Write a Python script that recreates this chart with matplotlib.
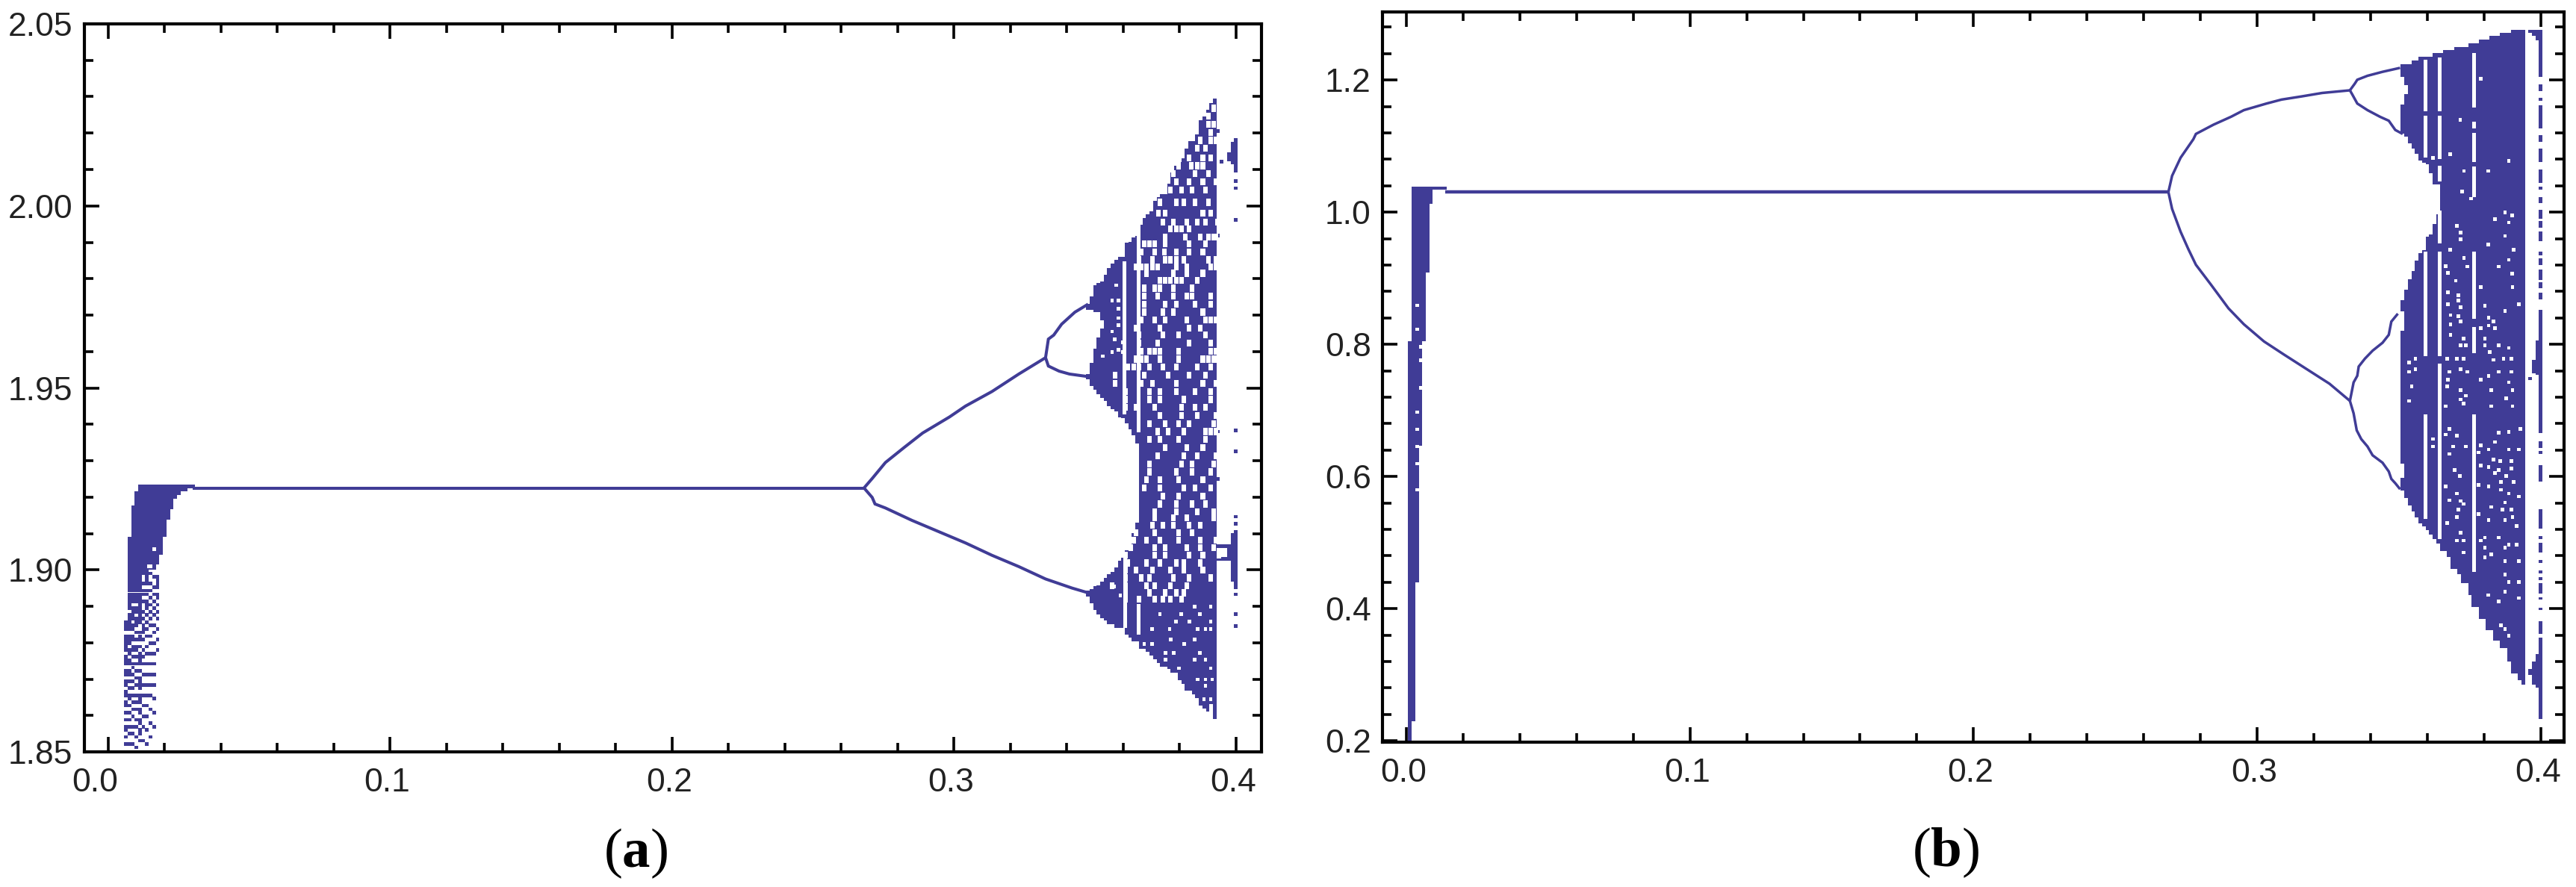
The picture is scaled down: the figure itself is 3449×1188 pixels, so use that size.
import matplotlib
matplotlib.use("Agg")
import matplotlib.pyplot as plt
from matplotlib.ticker import MultipleLocator
from matplotlib.transforms import ScaledTranslation

COL = "#403c96"
CW = 0.00125  # width of one column of points on the parameter axis

# ---------- panel (a) ----------
a_line_x = [0.03, 0.2681]
a_line_y = [1.9225, 1.9225]
a_upper_x = [0.2681, 0.2710, 0.2757, 0.2823, 0.2889, 0.2984, 0.3041, 0.3135, 0.3230, 0.3325]
a_upper_y = [1.9225, 1.9251, 1.9295, 1.9336, 1.9376, 1.9420, 1.9450, 1.9490, 1.9538, 1.9583]
a_lower_x = [0.2681, 0.2710, 0.2720, 0.2757, 0.2851, 0.2946, 0.3041, 0.3135, 0.3230, 0.3325, 0.3419, 0.3476]
a_lower_y = [1.9225, 1.9199, 1.9181, 1.9170, 1.9136, 1.9105, 1.9074, 1.9040, 1.9009, 1.8975, 1.8950, 1.8937]
a_loop_up_x = [0.3325, 0.3335, 0.3354, 0.3382, 0.3429, 0.3476]
a_loop_up_y = [1.9583, 1.9634, 1.9645, 1.9675, 1.9708, 1.9730]
a_loop_lo_x = [0.3325, 0.3335, 0.3373, 0.3410, 0.3476]
a_loop_lo_y = [1.9583, 1.9560, 1.9546, 1.9538, 1.9531]

a_left_x = [0.0075, 0.00875, 0.01, 0.01125, 0.0125, 0.01375, 0.015, 0.01625, 0.0175, 0.01875,
            0.02, 0.02125, 0.0225, 0.02375, 0.025, 0.02625, 0.0275, 0.02875, 0.03]
a_left_top = [1.9090, 1.9176, 1.9215, 1.9234, 1.9234, 1.9234, 1.9234, 1.9234, 1.9234, 1.9234,
              1.9234, 1.9234, 1.9234, 1.9234, 1.9234, 1.9234, 1.9234, 1.9234, 1.9234]
a_left_bot = [1.8995, 1.8995, 1.8995, 1.8995, 1.8995, 1.8995, 1.9001, 1.9001, 1.9015, 1.9042,
              1.9090, 1.9138, 1.9167, 1.9196, 1.9205, 1.9215, 1.9215, 1.9224, 1.9224]

# stippled rows at the foot of the left column: y and (x from, x to) runs
a_st_y = [1.8512, 1.8521, 1.8531, 1.8541, 1.8550, 1.8560, 1.8569, 1.8579, 1.8588, 1.8598,
          1.8608, 1.8617, 1.8627, 1.8636, 1.8646, 1.8655, 1.8665, 1.8675, 1.8684, 1.8694,
          1.8703, 1.8713, 1.8722, 1.8732, 1.8742, 1.8751, 1.8761, 1.8770, 1.8780, 1.8789,
          1.8799, 1.8809, 1.8818, 1.8828, 1.8837, 1.8847, 1.8856, 1.8866, 1.8876, 1.8885,
          1.8895, 1.8904, 1.8914, 1.8923, 1.8933, 1.8943, 1.8952, 1.8962, 1.8971, 1.8981, 1.8990]
a_st_runs = [
    [(.0094, .0106)],
    [(.0056, .0094), (.0131, .0144)],
    [(.0106, .0131)],
    [(.0056, .0069), (.0094, .0106), (.0144, .0156)],
    [(.0069, .0094), (.0106, .0119)],
    [(.0056, .0069), (.0106, .0119), (.0131, .0144)],
    [(.0056, .0106), (.0119, .0131), (.0156, .0169)],
    [(.0106, .0119), (.0144, .0156)],
    [(.0056, .0081), (.0094, .0119)],
    [(.0081, .0094), (.0119, .0144)],
    [(.0056, .0081), (.0106, .0119), (.0156, .0169)],
    [(.0081, .0119), (.0144, .0156)],
    [(.0056, .0081), (.0119, .0144)],
    [(.0056, .0069), (.0081, .0119)],
    [(.0069, .0081), (.0106, .0119), (.0156, .0169)],
    [(.0056, .0156)],
    [(.0056, .0069)],
    [(.0069, .0094), (.0106, .0119)],
    [(.0056, .0069), (.0094, .0169)],
    [(.0056, .0094), (.0106, .0119)],
    [(.0094, .0119)],
    [(.0056, .0094), (.0119, .0169)],
    [(.0056, .0081), (.0094, .0119)],
    [(.0081, .0094)],
    [(.0056, .0169)],
    [(.0056, .0081), (.0106, .0119)],
    [(.0056, .0069), (.0081, .0131)],
    [(.0069, .0081), (.0106, .0119), (.0131, .0169)],
    [(.0056, .0106), (.0119, .0131), (.0169, .0181)],
    [(.0056, .0069), (.0081, .0119), (.0131, .0144)],
    [(.0056, .0081), (.0144, .0169)],
    [(.0056, .0131), (.0169, .0181)],
    [(.0056, .0094), (.0106, .0119), (.0131, .0156)],
    [(.0094, .0131), (.0156, .0169)],
    [(.0056, .0094), (.0119, .0144), (.0169, .0181)],
    [(.0056, .0106), (.0119, .0131), (.0144, .0169)],
    [(.0056, .0081), (.0094, .0119), (.0131, .0144)],
    [(.0069, .0131), (.0144, .0156), (.0169, .0181)],
    [(.0069, .0094), (.0106, .0119), (.0131, .0144), (.0156, .0169)],
    [(.0081, .0131), (.0144, .0156), (.0169, .0181)],
    [(.0069, .0119), (.0131, .0144), (.0156, .0169)],
    [(.0069, .0081), (.0106, .0119), (.0131, .0156), (.0169, .0181)],
    [(.0069, .0144), (.0156, .0169)],
    [(.0069, .0119), (.0144, .0156), (.0169, .0181)],
    [(.0069, .0144), (.0156, .0181)],
    [(.0069, .0156)],
    [(.0069, .0119), (.0156, .0181)],
    [(.0069, .0156), (.0169, .0181)],
    [(.0069, .0119), (.0131, .0144), (.0169, .0181)],
    [(.0069, .0119), (.0131, .0144), (.0156, .0181)],
    [(.0069, .0156)],
]

# chaotic region before the two sides join
a_up_x = [.3475, .34875, .35, .35125, .3525, .35375, .355, .35625, .3575, .35875, .36, .36125, .3625, .36375, .365]
a_up_top = [1.9730, 1.9752, 1.9782, 1.9789, 1.9793, 1.9811, 1.9830, 1.9841, 1.9852, 1.9859, 1.9859, 1.9900, 1.9900, 1.9914, 1.9918]
a_up_bot = [1.9715, 1.9715, 1.9708, 1.9708, 1.9686, 1.9465, 1.9450, 1.9442, 1.9435, 1.9420, 1.9417, 1.9402, 1.9387, 1.9369, 1.9347]
a_lobe_x = [.3475, .34875, .35, .35125, .3525]
a_lobe_top = [1.9538, 1.9568, 1.9608, 1.9638, 1.9664]
a_lobe_bot = [1.9524, 1.9505, 1.9494, 1.9483, 1.9472]
a_lo_top = [1.8944, 1.8948, 1.8955, 1.8957, 1.8968, 1.8978, 1.8988, 1.8995, 1.9006, 1.9026, 1.9033, 1.9054, 1.9071, 1.9102, 1.9129]
a_lo_bot = [1.8926, 1.8909, 1.8889, 1.8878, 1.8868, 1.8861, 1.8851, 1.8851, 1.8840, 1.8840, 1.8840, 1.8823, 1.8813, 1.8803, 1.8803]
# after they join
a_mid_x = [.36625, .3675, .36875, .37, .37125, .3725, .37375, .375, .37625, .3775, .37875, .38, .38125, .3825,
           .38375, .385, .38625, .3875, .38875, .39, .39125, .3925]
a_mid_top = [1.9948, 1.9966, 1.9977, 1.9985, 2.0014, 2.0024, 2.0032, 2.0032, 2.0062, 2.0091, 2.0110, 2.0121, 2.0130,
             2.0158, 2.0178, 2.0178, 2.0196, 2.0235, 2.0245, 2.0265, 2.0283, 2.0294]
a_mid_bot = [1.8784, 1.8784, 1.8775, 1.8765, 1.8754, 1.8744, 1.8734, 1.8734, 1.8727, 1.8717, 1.8717, 1.8696, 1.8686,
             1.8668, 1.8668, 1.8658, 1.8648, 1.8627, 1.8620, 1.8610, 1.8631, 1.8591]
# window near the right edge
a_end_x = [.4, .39875, .3975, .4, .39875, .3975]
a_end_top = [2.0187, 2.0176, 2.0147, 1.9109, 1.9102, 1.9071]
a_end_bot = [2.0091, 2.0114, 2.0122, 1.8947, 1.8968, 1.9026]
a_dot_x = [.4, .4, .4, .4, .4, .4, .4, .4, .4, .4, .395, .3937, .3950, .3962, .3937, .3950, .3962, .3937, .3937, .3937, .3937]
a_dot_y = [2.0068, 2.0049, 1.9961, 1.9383, 1.9326, 1.9146, 1.9126, 1.8933, 1.8878, 1.8845,
           2.0122, 1.9065, 1.9065, 1.9065, 1.9030, 1.9030, 1.9030, 2.0206, 1.9918, 1.9380, 1.9250]

# white gaps in the chaotic region, coarse ones then single ones
a_gap_y = [2.0268, 2.0246, 2.0224, 2.0202, 2.018, 2.0158, 2.0132, 2.011, 2.0088, 2.0066, 2.0044,
           2.001, 1.998, 1.9955, 1.9937, 1.9914, 1.9896, 1.9874, 1.9852, 1.9833, 1.9815, 1.9796, 1.9774, 1.9752, 1.973,
           1.9708, 1.9686, 1.9664, 1.9645, 1.9623, 1.9601, 1.9579, 1.9557, 1.9535, 1.9513, 1.9490, 1.9468, 1.9446, 1.9424,
           1.9402, 1.9380, 1.9358, 1.9336, 1.9313, 1.9291, 1.9269, 1.9247, 1.9225, 1.9203, 1.9181, 1.9159, 1.9143, 1.9122,
           1.9102, 1.9081, 1.9061, 1.9040, 1.9019, 1.8999, 1.8978, 1.8957, 1.8937, 1.8920]
a_gap_x = [
    [.3921],
    [.3902],
    [.3902, .3921],
    [.3911],
    [.3873, .3911, .3930],
    [.3864, .3892],
    [.3835, .3883, .3911],
    [.3798, .3841, .3864, .3883],
    [.3779, .3854, .3902],
    [.3788, .3835, .3883, .3930],
    [.3769, .3807, .3845, .3892],
    [.3731, .3788, .3816, .3854, .3902],
    [.3725, .3750, .3883, .3911],
    [.3741, .3779, .3826, .3864, .3892, .3935],
    [.3769, .3788, .3807, .3835, .3940],
    [.3750, .3821, .3873, .3902, .3921, .3930],
    [.3675, .3693, .3712, .3750, .3835, .3892],
    [.3665, .3712, .3746, .3788, .3835, .3883],
    [.3656, .3703, .3750, .3769, .3788, .3816, .3902, .3930],
    [.3646, .3665, .3684, .3703, .3722, .3788, .3826, .3911, .3930],
    [.3684, .3779, .3826, .3883],
    [.3731, .3750, .3769, .3788, .3807, .3864],
    [.3675, .3712, .3731, .3779, .3845],
    [.3675, .3722, .3779, .3826, .3845, .3911],
    [.3675, .3750, .3788, .3854, .3911],
    [.3675, .3741, .3779, .3883],
    [.3665, .3712, .3750, .3826, .3892, .3911, .3930],
    [.3646, .3731, .3835, .3873],
    [.3656, .3741, .3798, .3892],
    [.3656, .3722, .3835, .3911],
    [.3665, .3693, .3712, .3731, .3798, .3911, .3930],
    [.3646, .3665, .3684, .3731, .3798, .3883, .3902, .3921, .3930],
    [.3618, .3637, .3656, .3693, .3741, .3788, .3864, .3911],
    [.3571, .3675, .3760, .3835, .3892],
    [.3571, .3665, .3703, .3788, .3883, .3930],
    [.3609, .3693, .3731, .3788, .3854, .3911],
    [.3609, .3693, .3731, .3816, .3911],
    [.3609, .3646, .3712, .3807, .3854, .3892],
    [.3731, .3807, .3864, .3930],
    [.3693, .3750, .3798, .3835, .3921],
    [.3722, .3760, .3816, .3892, .3911, .3930],
    [.3693, .3731, .3798, .3892],
    [.3750, .3826, .3883],
    [.3722, .3816, .3864, .3930],
    [.3693, .3807, .3845, .3921],
    [.3693, .3788, .3845, .3911],
    [.3684, .3731, .3798, .3883],
    [.3675, .3731, .3816, .3854, .3911],
    [.3741, .3798, .3883],
    [.3731, .3788, .3845, .3892],
    [.3712, .3788, .3864, .3921],
    [.3712, .3779, .3826, .3921],
    [.3703, .3741, .3779, .3835, .3873],
    [.3646, .3712, .3798, .3845],
    [.3637, .3684, .3731, .3798, .3873, .3930],
    [.3627, .3712, .3750, .3826, .3873, .3921],
    [.3609, .3712, .3750, .3835, .3883, .3940],
    [.3618, .3684, .3731, .3788, .3816, .3873],
    [.3609, .3646, .3703, .3769, .3816, .3883],
    [.3609, .3665, .3693, .3779, .3835, .3911],
    [.3562, .3609, .3684, .3712, .3769, .3826],
    [.3609, .3693, .3750, .3788, .3816],
    [.3609, .3656, .3712, .3741, .3769, .3807],
]
a_pin_x = [.3609, .3656, .3854, .3911, .3609, .3656, .3731, .3807, .3873, .3609, .3656, .3788, .3835, .3911,
           .3656, .3703, .3765, .3864, .3892, .3911, .3769, .3854, .3675, .3703, .3816, .3750, .3779, .3873,
           .3750, .3854, .3892, .3798, .3911, .3864, .3892, .3916, .3892, .3887, .3911, .3911,
           .3575, .3561, .3584, .3584, .3584, .3584, .3561, .3571, .3599, .3584, .3528, .3561, .3599,
           .3568, .3590, .0163, .0144, .0150]
a_pin_y = [1.8899, 1.8899, 1.8899, 1.8899, 1.8878, 1.8878, 1.8878, 1.8878, 1.8878, 1.8858, 1.8858, 1.8858, 1.8858, 1.8858,
           1.8837, 1.8837, 1.8837, 1.8837, 1.8837, 1.8837, 1.8809, 1.8809, 1.8796, 1.8796, 1.8796, 1.8772, 1.8772, 1.8772,
           1.8754, 1.8754, 1.8754, 1.8730, 1.8730, 1.8699, 1.8699, 1.8699, 1.8682, 1.8644, 1.8644, 1.8624,
           1.9782, 1.9740, 1.9740, 1.9718, 1.9692, 1.9672, 1.9655, 1.9633, 1.9625, 1.9605, 1.9587, 1.9598, 1.9598,
           1.8955, 1.8930, 1.9057, 1.9010, 1.9010]
a_stripe_x = [.3656, .3604, .3607, .3656]
a_stripe_lo = [1.9378, 1.9428, 1.8840, 1.8823]
a_stripe_hi = [2.0014, 1.9848, 1.9033, 1.8906]

# ---------- panel (b) ----------
b_line_x = [0.0137, 0.2687]
b_line_y = [1.0305, 1.0305]
b_upper_x = [.2687, .2700, .2730, .2775, .2784, .2846, .2908, .2953, .3033, .3086, .3157, .3229, .3327]
b_upper_y = [1.0305, 1.055, 1.0824, 1.1104, 1.1184, 1.1324, 1.1444, 1.1544, 1.1644, 1.1704, 1.1752, 1.1804, 1.1844]
b_lower_x = [.2687, .2700, .2730, .2757, .2784, .2837, .2899, .2953, .3024, .3095, .3175, .3255, .3327]
b_lower_y = [1.0305, 1.005, .9704, .9444, .9204, .8904, .8544, .8304, .8044, .7844, .7624, .7404, .7144]
b_in_x = [.3327, .3340, .3353, .3358, .3380, .3407, .3442, .3464, .3473, .3496]
b_in_y = [.7144, .7424, .7524, .7664, .7784, .7904, .8024, .8144, .8344, .8464]
b_out_x = [.3327, .3340, .3351, .3367, .3389, .3407, .3442, .3464, .3473, .3487, .3504]
b_out_y = [.7144, .6956, .6699, .6566, .6454, .6321, .6209, .6076, .5964, .5898, .5808]
b_loop_up_x = [.3327, .3344, .3353, .3389, .3442, .3504]
b_loop_up_y = [1.1844, 1.1944, 1.2004, 1.2064, 1.2124, 1.2184]
b_loop_lo_x = [.3327, .3335, .3353, .3389, .3433, .3464, .3487, .3513]
b_loop_lo_y = [1.1844, 1.1784, 1.1644, 1.1544, 1.1444, 1.1384, 1.1244, 1.1184]

b_left_x = [.00125, .0025, .00375, .005, .00625, .0075, .00875, .01, .01125, .0125, .01375]
b_left_top = [.8049, 1.0384, 1.0384, 1.0384, 1.0384, 1.0384, 1.0384, 1.0384, 1.0384, 1.0384, 1.0384]
b_left_bot = [.2000, .2295, .4400, .6467, .8049, .9085, 1.0128, 1.0339, 1.0339, 1.0339, 1.0339]

b_up_x = [.35125, .3525, .35375, .355, .35625, .3575, .35875, .36, .36125, .3625, .36375]
b_up_top = [1.2240, 1.2240, 1.2240, 1.2292, 1.2292, 1.2352, 1.2352, 1.2352, 1.2352, 1.2404, 1.2404]
b_up_bot = [1.1184, 1.1144, 1.1044, 1.0964, 1.0884, 1.0784, 1.0744, 1.0724, 1.0584, 1.0424, 1.0424]
b_lo_top = [.8664, .8824, .8984, .9104, .9264, .9384, .9424, .9624, .9664, .9824, .9964]
b_lo_bot = [.5790, .5675, .5563, .5474, .5385, .5296, .5241, .5185, .5118, .5051, .4984]
b_mid_x = [.365, .36625, .3675, .36875, .37, .37125, .3725, .37375, .375, .37625, .3775, .37875, .38, .38125,
           .3825, .38375, .385, .38625, .3875, .38875, .39, .39125, .3925, .39375]
b_mid_top = [1.2404, 1.2452, 1.2452, 1.2452, 1.2504, 1.2504, 1.2504, 1.2504, 1.2556, 1.2556, 1.2556, 1.2612, 1.2612, 1.2612,
             1.2664, 1.2664, 1.2664, 1.2716, 1.2716, 1.2716, 1.2764, 1.2764, 1.2764, 1.2764]
b_mid_bot = [.4873, .4873, .4784, .4606, .4606, .4517, .4383, .4383, .4205, .4027, .4027, .3849, .3849, .3670,
             .3670, .3514, .3514, .3403, .3403, .3203, .3024, .3024, .2913, .2846]

# the broken column at 0.4 and the small pieces beside it
b_end_lo = [1.2044, 1.1832, 1.1688, 1.1264, 1.1064, 1.0764, 1.0444, 1.0344, 1.0136, .9896, .9764, .9564, .9352, .92,
            .8976, .8844, .8684, .6655, .6432, .6343, .5920, .5207, .5051, .4851, .4695, .4539, .4437, .4227, .4134,
            .3982, .3617, .2334]
b_end_hi = [1.2764, 1.1936, 1.1728, 1.1616, 1.1164, 1.0964, 1.0644, 1.0384, 1.0224, 1.0032, .9864, .9712, .9404, .9296,
            .9136, .8936, .8784, .8524, .6534, .6388, .6174, .5506, .5096, .4998, .4739, .4584, .4472, .4383, .4169,
            .4018, .3813, .3559]
b_side_x = [.39875, .3975, .39625, .39875, .3975, .39625, .39875, .3975, .39625]
b_side_top = [1.2764, 1.2764, 1.2764, .8064, .7764, .7510, .3314, .3203, .3091]
b_side_bot = [1.2604, 1.2672, 1.2712, .7544, .7564, .7460, .2802, .2846, .3002]

# single white cells in the band
b_gap_x = [.3789, .3716, .3681, .3620, .3887, .3729, .3814, .3722, .3754, .3874, .3898, .3838, .3887, .3705, .3718, .3874,
           .3718, .3814, .3681, .3905, .3729, .3887, .3851, .3741, .3898,
           .3665, .3673, .3700, .3789, .3900, .3673, .3709, .3709, .3803, .3923, .3874, .3673, .3718, .3709, .3682, .3816,
           .3834, .3816, .3838, .3789, .3682, .3718, .3682, .3727, .3803, .3718, .3736, .3851, .3887, .3803, .3820, .3669,
           .3705, .3727, .3834, .3869, .3896, .3536, .3558, .3536, .3558, .3678, .3718, .3740, .3816, .3851, .3896, .3673,
           .3789, .3887, .3545, .3669, .3718, .3825, .3900, .3536, .3718, .3878, .3736, .3825, .3665, .3727, .3900,
           .3678, .3705, .3665, .3851, .3887, .3927, .3838, .3620, .3691, .3736, .3620, .3789, .3816, .3887, .3923, .3678,
           .3780, .3834, .3789, .3856, .3896, .3816, .3851, .3696, .3896, .3714, .3838, .3878, .3665, .3780, .3816, .3860,
           .3905, .3860, .3705, .3887, .3678, .3718, .3874, .3727, .3923, .3825, .3709, .3865, .3896, .3705, .3780, .3900,
           .3669, .3816, .3874, .3718, .3914, .3803, .3851, .3705, .3727, .3789, .3887, .3914, .3803, .3727, .3874, .3825,
           .3803, .3874, .3923, .3874, .3887, .3923, .3874, .3814, .3923, .3851, .3860, .3874, .3887,
           .00375, .00375, .005, .005, .005, .00375, .00375, .00375, .00375, .00375]
b_gap_y = [1.2016, 1.1396, 1.088, 1.0824, 1.0776, 1.0624, 1.0624, 1.0312, 1.0204, .9996, .9952, .9896, .9844, .9792, .9692, .964,
           .9592, .9512, .9432, .9432, .9304, .928, .9176, .9176, .9072,
           .9184, .9084, .8964, .8864, .8864, .8784, .8744, .8664, .8584, .8604, .8504, .8604, .8564, .8424, .8444, .8404,
           .8344, .8284, .8244, .8244, .8304, .8344, .8144, .8084, .8084, .7984, .7984, .7984, .7944, .7984, .7884, .7784,
           .7784, .7784, .7764, .7784, .7784, .7724, .7784, .7584, .7624, .7584, .7624, .7584, .7524, .7584, .7584, .7464,
           .7464, .7424, .7364, .7364, .7304, .7304, .7304, .7144, .7164, .7184, .7224, .7064, .7064, .7104, .7064,
           .6722, .6619, .6633, .6664, .6677, .6722, .6521, .6566, .6454, .6454, .6454, .6468, .6410, .6410, .6410, .6343,
           .6365, .6254, .6165, .6232, .6232, .6143, .6098, .6098, .6120, .6009, .6053, .6009, .5853, .5875, .5853, .5920,
           .5920, .5800, .5742, .5742, .5639, .5630, .5608, .5586, .5697, .5541, .5497, .5497, .5497, .5385, .5430, .5385,
           .5296, .5341, .5341, .5149, .5252, .5074, .5074, .5029, .5029, .5029, .4971, .4971, .4926, .4851, .4926, .4820,
           .4775, .4717, .4717, .4517, .4405, .4405, .4258, .4205, .4160, .4107, .3746, .3693, .3590,
           .8588, .8226, .7962, .7759, .7341, .6975, .6716, .6452, .6196, .5800]
b_stripe_x = [.3593, .3593, .3593, .3593, .3644, .3644, .3644, .3644, .3644, .3644, .3644, .3644,
              .3765, .3765, .3765, .3765, .3765, .3765, .3765, .35125, .3525, .35125, .35125]
b_stripe_lo = [1.1524, 1.0824, .7824, .5363, 1.1524, 1.0804, 1.0464, .9524, .7824, .6944, .5051, .5051,
               1.1584, 1.1264, 1.0764, 1.0224, .8384, .7864, .4561, 1.1624, 1.1784, .8200, .5980]
b_stripe_hi = [1.2304, 1.1464, .9404, .6944, 1.2344, 1.1464, 1.0704, 1.0024, .9404, .7704, .6944, .5500,
               1.2404, 1.1364, 1.1204, 1.0696, .9404, .8264, .6944, 1.2044, 1.1924, .8500, .6200]

xticks = [0.0, 0.1, 0.2, 0.3, 0.4]
a_yticks = [1.85, 1.90, 1.95, 2.00, 2.05]
b_yticks = [0.2, 0.4, 0.6, 0.8, 1.0, 1.2]

plt.rcParams["font.family"] = ["Liberation Sans", "DejaVu Sans"]
plt.rcParams["mathtext.fontset"] = "custom"
plt.rcParams["mathtext.rm"] = "Liberation Serif"
plt.rcParams["mathtext.bf"] = "Liberation Serif:bold"

W, H = 3449, 1188
fig = plt.figure(figsize=(W / 100, H / 100), dpi=100, facecolor="white")


def make_axes(left, right, top, bottom, xlim, ylim, yticks, ystep, yfmt, shifts):
    ax = fig.add_axes([left / W, 1 - bottom / H, (right - left) / W, (bottom - top) / H])
    ax.set_xlim(xlim)
    ax.set_ylim(ylim)
    ax.set_xticks(xticks)
    ax.set_yticks(yticks)
    ax.set_xticklabels(["%.1f" % t for t in xticks])
    ax.set_yticklabels([yfmt % t for t in yticks])
    ax.xaxis.set_minor_locator(MultipleLocator(0.02))
    ax.yaxis.set_minor_locator(MultipleLocator(ystep))
    ax.tick_params(which="major", direction="in", top=True, right=True, length=14.5, width=2.6,
                   labelsize=32, labelcolor="#222222")
    ax.tick_params(which="minor", direction="in", top=True, right=True, length=8.5, width=2.6)
    ax.tick_params(axis="x", which="major", pad=15)
    ax.tick_params(axis="y", which="major", pad=11)
    for s in ax.spines.values():
        s.set_linewidth(3)
    # x labels sit a little left of their ticks in the original
    for lab, dx in zip(ax.get_xticklabels(), shifts):
        lab.set_transform(lab.get_transform() + ScaledTranslation(dx / 100, 0, fig.dpi_scale_trans))
    return ax


def columns(ax, x, lo, hi, color=COL, width=CW):
    h = [t - b for t, b in zip(hi, lo)]
    ax.bar(x, h, width=width, bottom=lo, color=color, linewidth=0, antialiased=False, zorder=3 if color == COL else 4)


def lines(ax, pairs, lw=3.2):
    for x, y in pairs:
        ax.plot(x, y, color=COL, lw=lw, solid_capstyle="butt", solid_joinstyle="miter", zorder=3)


def cells(ax, x, y, h, color=COL, width=CW):
    lo = [v - h / 2 for v in y]
    hi = [v + h / 2 for v in y]
    columns(ax, x, lo, hi, color, width)


# panel (a)
ax = make_axes(112.5, 1689, 32, 1007, (-0.0086, 0.4091), (1.85, 2.05), a_yticks, 0.01, "%.2f", [-18, -4, -4, -4, -4])
lines(ax, [(a_line_x, a_line_y), (a_upper_x, a_upper_y), (a_lower_x, a_lower_y),
           (a_loop_up_x, a_loop_up_y), (a_loop_lo_x, a_loop_lo_y)], 2.9)
columns(ax, a_left_x, a_left_bot, a_left_top)
for y, runs in zip(a_st_y, a_st_runs):
    for x0, x1 in runs:
        ax.barh(y, x1 - x0, height=0.00096, left=x0, color=COL, linewidth=0, antialiased=False, zorder=3)
columns(ax, a_up_x, a_up_bot, a_up_top)
columns(ax, a_lobe_x, a_lobe_bot, a_lobe_top)
columns(ax, a_up_x, a_lo_bot, a_lo_top)
columns(ax, a_mid_x, a_mid_bot, a_mid_top)
columns(ax, a_end_x, a_end_bot, a_end_top)
cells(ax, a_dot_x, a_dot_y, 0.00096)
for y, xs in zip(a_gap_y, a_gap_x):
    cells(ax, xs, [y] * len(xs), 0.0019, "white", 0.0016)
cells(ax, a_pin_x, a_pin_y, 0.00096, "white")
columns(ax, a_stripe_x, a_stripe_lo, a_stripe_hi, "white")

# panel (b)
ax = make_axes(1851, 3433, 16, 994, (-0.0084, 0.4082), (0.198, 1.303), b_yticks, 0.04, "%.1f", [-4, -4, -4, -4, -4])
lines(ax, [(b_line_x, b_line_y)], 3.2)
lines(ax, [(b_upper_x, b_upper_y), (b_lower_x, b_lower_y), (b_in_x, b_in_y),
           (b_out_x, b_out_y), (b_loop_up_x, b_loop_up_y), (b_loop_lo_x, b_loop_lo_y)], 2.5)
columns(ax, b_left_x, b_left_bot, b_left_top)
columns(ax, b_up_x, b_up_bot, b_up_top)
columns(ax, b_up_x, b_lo_bot, b_lo_top)
columns(ax, b_mid_x, b_mid_bot, b_mid_top)
columns(ax, [0.4] * len(b_end_lo), b_end_lo, b_end_hi)
columns(ax, b_side_x, b_side_bot, b_side_top)
cells(ax, b_gap_x, b_gap_y, 0.0052, "white")
columns(ax, b_stripe_x, b_stripe_lo, b_stripe_hi, "white")

fig.text(851 / W, 1 - 1143 / H, r"($\mathbf{a}$)", family="Liberation Serif", fontsize=54, ha="center", va="center")
fig.text(2605 / W, 1 - 1142 / H, r"($\mathbf{b}$)", family="Liberation Serif", fontsize=54, ha="center", va="center")

fig.savefig("out.png", dpi=100, facecolor="white")
